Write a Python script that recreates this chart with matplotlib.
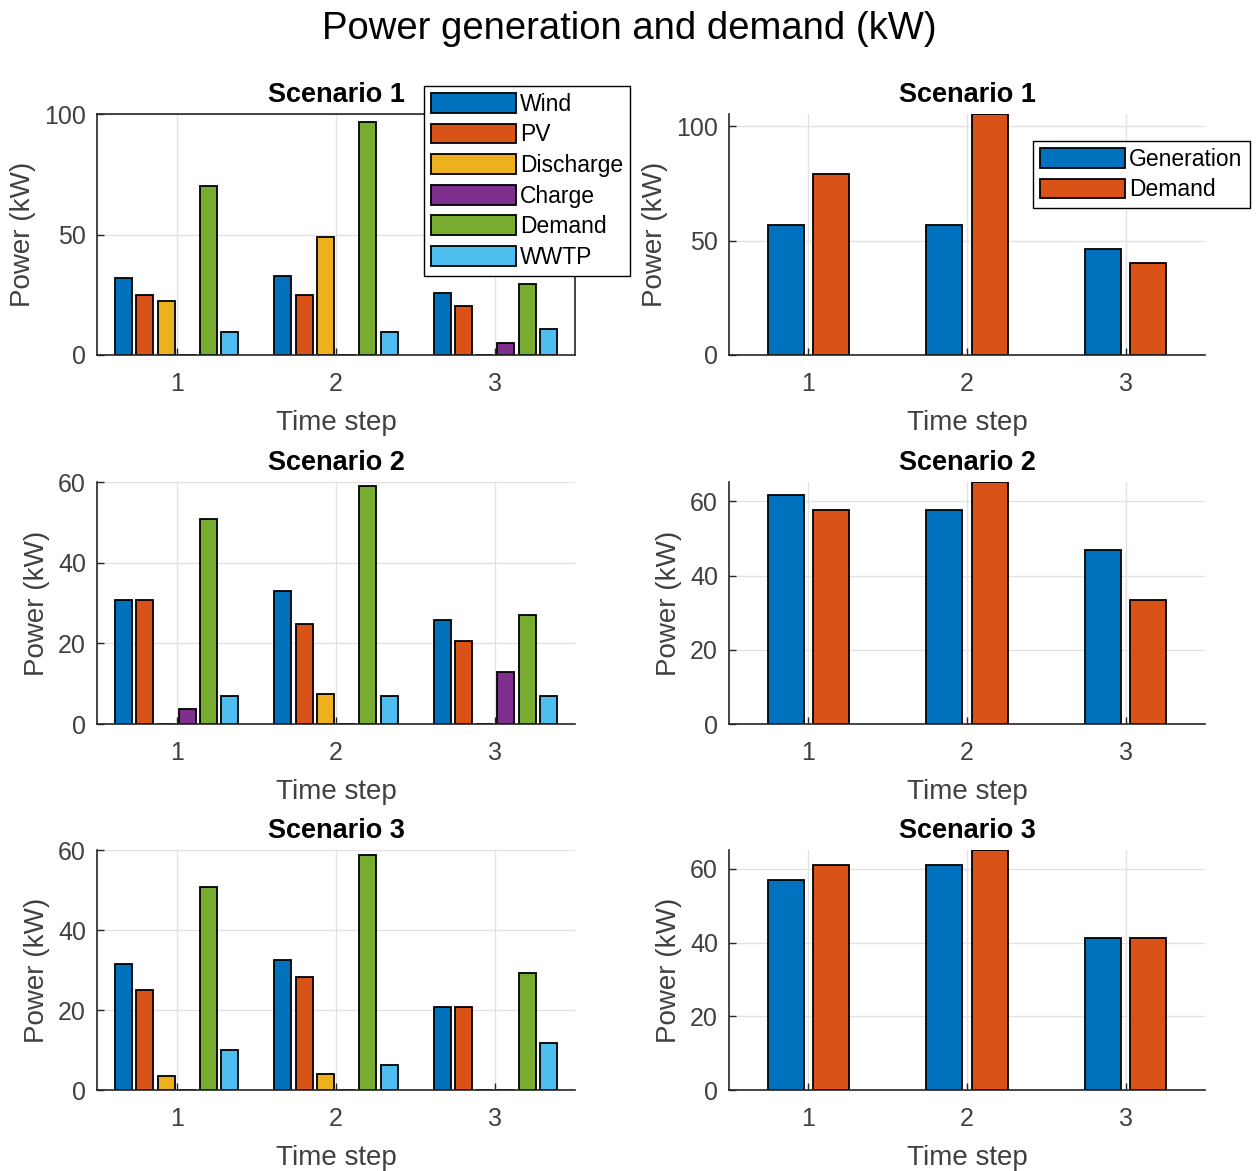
import numpy as np
import matplotlib
matplotlib.use("Agg")
import matplotlib.pyplot as plt

plt.rcParams["font.family"] = ["Liberation Sans", "DejaVu Sans"]

# --- datos ---
steps = [1, 2, 3]
source_names = ["Wind", "PV", "Discharge", "Charge", "Demand", "WWTP"]
balance_names = ["Generation", "Demand"]

wind_s1      = [31.8, 32.8, 25.9]
pv_s1        = [24.9, 24.9, 20.3]
discharge_s1 = [22.4, 48.8, 0.0]
charge_s1    = [0.0, 0.0, 5.1]
demand_s1    = [70.1, 96.8, 29.3]
wwtp_s1      = [9.7, 9.7, 10.6]

wind_s2      = [30.7, 32.9, 25.9]
pv_s2        = [30.7, 24.9, 20.6]
discharge_s2 = [0.0, 7.4, 0.0]
charge_s2    = [3.7, 0.0, 12.8]
demand_s2    = [50.9, 58.9, 27.1]
wwtp_s2      = [6.9, 6.9, 6.9]

wind_s3      = [31.4, 32.5, 20.7]
pv_s3        = [25.0, 28.3, 20.7]
discharge_s3 = [3.6, 4.0, 0.0]
charge_s3    = [0.0, 0.0, 0.0]
demand_s3    = [50.7, 58.8, 29.3]
wwtp_s3      = [10.0, 6.3, 11.7]

gen_s1 = [57.0, 57.0, 46.5]
dem_s1 = [79.2, 105.4, 40.3]
gen_s2 = [61.8, 57.7, 46.8]
dem_s2 = [57.7, 65.2, 33.5]
gen_s3 = [56.9, 61.0, 41.2]
dem_s3 = [61.0, 65.1, 41.2]

scen_titles = ["Scenario 1", "Scenario 2", "Scenario 3"]
left_ylim   = [100, 60, 60]
left_ticks  = [[0, 50, 100], [0, 20, 40, 60], [0, 20, 40, 60]]
right_ticks = [[0, 50, 100], [0, 20, 40, 60], [0, 20, 40, 60]]

MATLAB = ["#0072BD", "#D95319", "#EDB120", "#7E2F8E", "#77AC30", "#4DBEEE"]
GRAY = "#404040"

W, H = 1258, 1171
fig = plt.figure(figsize=(W / 100, H / 100), dpi=100)

# posiciones en pixeles (arriba, abajo) y (izq, der)
rows_px = [(114, 355), (482, 724), (850, 1090)]
left_x = (97, 575)
right_x = (729, 1205)


def px_axes(x0, x1, top, bot):
    return fig.add_axes([x0 / W, 1 - bot / H, (x1 - x0) / W, (bot - top) / H])


def style(ax, box):
    ax.set_axisbelow(True)
    ax.grid(True, color="#e3e3e3", linewidth=1.0)
    for s in ["top", "right"]:
        ax.spines[s].set_visible(box)
    for s in ax.spines.values():
        s.set_color("#262626")
        s.set_linewidth(1.2)
    ax.tick_params(direction="in", length=5, width=1.0, colors="#262626",
                   labelcolor=GRAY, labelsize=18)
    ax.tick_params(axis="x", pad=12)
    ax.tick_params(axis="y", pad=8)
    ax.set_xlim(0.5, 3.5)
    ax.set_xticks(steps)
    ax.set_xlabel("Time step", fontsize=20, color=GRAY, labelpad=10)
    ax.set_ylabel("Power (kW)", fontsize=20, color=GRAY, labelpad=6)


def add_legend(ax, x_px, y_px):
    ax.legend(loc="upper left", bbox_to_anchor=(x_px / W, 1 - y_px / H),
              bbox_transform=fig.transFigure, fontsize=16.5,
              handlelength=3.7, handleheight=0.95, handletextpad=0.2,
              labelspacing=0.33, borderpad=0.3, borderaxespad=0,
              fancybox=False, framealpha=1, edgecolor="black")


left_data = [
    [wind_s1, pv_s1, discharge_s1, charge_s1, demand_s1, wwtp_s1],
    [wind_s2, pv_s2, discharge_s2, charge_s2, demand_s2, wwtp_s2],
    [wind_s3, pv_s3, discharge_s3, charge_s3, demand_s3, wwtp_s3],
]
right_data = [[gen_s1, dem_s1], [gen_s2, dem_s2], [gen_s3, dem_s3]]

x = np.array(steps, dtype=float)

for i, (top, bot) in enumerate(rows_px):
    # panel izquierdo: fuentes
    ax = px_axes(*left_x, top, bot)
    n = len(left_data[i])
    slot = 0.8 / n
    for k, vals in enumerate(left_data[i]):
        off = (k - (n - 1) / 2) * slot
        ax.bar(x + off, vals, width=slot * 0.8, color=MATLAB[k],
               edgecolor="black", linewidth=1.3, label=source_names[k])
    ax.set_ylim(0, left_ylim[i])
    ax.set_yticks(left_ticks[i])
    style(ax, box=(i == 0))
    ax.set_title(scen_titles[i], fontsize=19.5, fontweight="bold", pad=9)
    if i == 0:
        add_legend(ax, 424, 86)

    # panel derecho: generacion vs demanda
    ax = px_axes(*right_x, top, bot)
    n = len(right_data[i])
    slot = min(0.8, n / (n + 1.5)) / n
    for k, vals in enumerate(right_data[i]):
        off = (k - (n - 1) / 2) * slot
        ax.bar(x + off, vals, width=slot * 0.8, color=MATLAB[k],
               edgecolor="black", linewidth=1.3, label=balance_names[k])
    ax.set_ylim(0, max(max(v) for v in right_data[i]))
    ax.set_yticks(right_ticks[i])
    style(ax, box=False)
    ax.set_title(scen_titles[i], fontsize=19.5, fontweight="bold", pad=9)
    if i == 0:
        add_legend(ax, 1033, 141)

fig.suptitle("Power generation and demand (kW)", fontsize=27.5, y=1 - 29 / H,
             va="center")

fig.savefig("out.png", dpi=100)
